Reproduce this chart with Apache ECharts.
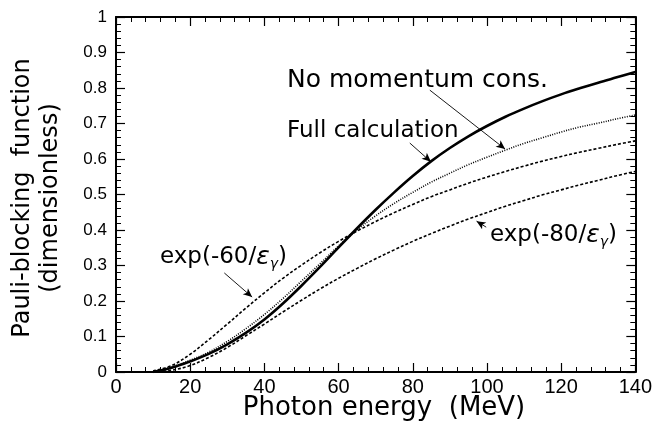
<!DOCTYPE html>
<html>
<head>
<meta charset="utf-8">
<script src="https://cdn.jsdelivr.net/npm/echarts@6/dist/echarts.min.js"></script>
<style>
  html, body { margin: 0; padding: 0; background: #fff; }
  #chart { width: 655px; height: 425px; }
</style>
</head>
<body>
<div id="chart"></div>
<script>
// Photon energy grid (MeV)
const energy = [10, 15, 20, 25, 30, 35, 40, 45, 50, 55, 60, 65, 70, 75, 80, 85, 90, 95, 100, 105, 110, 115, 120, 125, 130, 135, 140];

// Pauli-blocking function, full calculation
const fullCalc = [0.0, 0.012, 0.03, 0.051, 0.078, 0.11, 0.148, 0.193, 0.243, 0.296, 0.351, 0.405, 0.457, 0.506, 0.552, 0.594, 0.631, 0.664, 0.693, 0.719, 0.742, 0.763, 0.782, 0.799, 0.815, 0.83, 0.845];

// Without momentum conservation
const noMomentum = [0.0, 0.014, 0.033, 0.056, 0.086, 0.122, 0.162, 0.207, 0.256, 0.305, 0.355, 0.40, 0.44, 0.475, 0.506, 0.535, 0.56, 0.584, 0.605, 0.625, 0.644, 0.66, 0.676, 0.69, 0.701, 0.713, 0.724];

// exp(-60/E) approximation
const exp60 = [0.003, 0.018, 0.05, 0.091, 0.135, 0.18, 0.223, 0.264, 0.301, 0.336, 0.368, 0.397, 0.424, 0.449, 0.472, 0.494, 0.513, 0.532, 0.549, 0.565, 0.58, 0.594, 0.607, 0.619, 0.63, 0.641, 0.651];

// exp(-80/E) approximation
const exp80 = [0.0, 0.005, 0.018, 0.041, 0.069, 0.102, 0.135, 0.169, 0.202, 0.234, 0.264, 0.292, 0.319, 0.344, 0.368, 0.39, 0.411, 0.431, 0.449, 0.467, 0.483, 0.499, 0.513, 0.527, 0.54, 0.553, 0.565];

const xTickLabels = ['0', '20', '40', '60', '80', '100', '120', '140'];
const yTickLabels = ['0', '0.1', '0.2', '0.3', '0.4', '0.5', '0.6', '0.7', '0.8', '0.9', '1'];

// Annotation arrows: [from, to] in data coordinates
const arrows = [
  [[84.6, 0.794], [104.9, 0.628]],
  [[79.2, 0.645], [84.9, 0.592]],
  [[29.2, 0.279], [36.7, 0.211]],
  [[99.8, 0.408], [97.2, 0.425]]
];

const pairs = ys => energy.map((e, i) => [e, ys[i]]);

const chart = echarts.init(document.getElementById('chart'), null, { renderer: 'canvas' });

const tickFont = 'Liberation Sans, Arial, sans-serif';
const textFont = 'DejaVu Sans, sans-serif';

function xAxisCfg(pos, labels) {
  return {
    type: 'value', position: pos, min: 0, max: 140, interval: 20,
    axisLine: { show: true, onZero: false, lineStyle: { color: '#000', width: 2 } },
    axisTick: { show: true, inside: true, length: 9, lineStyle: { color: '#000', width: 1.2 } },
    minorTick: { show: true, splitNumber: 5, length: 5, lineStyle: { color: '#000', width: 1 } },
    splitLine: { show: false },
    axisLabel: {
      show: labels, color: '#000', fontSize: 20, fontFamily: tickFont, margin: 5,
      formatter: v => xTickLabels[Math.round(v / 20)]
    }
  };
}
function yAxisCfg(pos, labels) {
  return {
    type: 'value', position: pos, min: 0, max: 1, interval: 0.1,
    axisLine: { show: true, onZero: false, lineStyle: { color: '#000', width: 2 } },
    axisTick: { show: true, inside: true, length: 9, lineStyle: { color: '#000', width: 1.2 } },
    minorTick: { show: true, splitNumber: 5, length: 5, lineStyle: { color: '#000', width: 1 } },
    splitLine: { show: false },
    axisLabel: {
      show: labels, color: '#000', fontSize: 17, fontFamily: tickFont, margin: 9,
      formatter: v => yTickLabels[Math.round(v * 10)]
    }
  };
}

const lineBase = { type: 'line', showSymbol: false, smooth: 0.35, animation: false, silent: true };

const richLabel = size => ({
  e: { font: 'italic ' + size + 'px ' + textFont, fill: '#000' },
  s: { font: 'italic 14px ' + textFont, fill: '#000', padding: [15, 0, 0, 0] }
});

chart.setOption({
  backgroundColor: '#fff',
  animation: false,
  grid: { left: 116, right: 16, top: 17, bottom: 53 },
  xAxis: [xAxisCfg('bottom', true), xAxisCfg('top', false)],
  yAxis: [yAxisCfg('left', true), yAxisCfg('right', false)],
  series: [
    Object.assign({}, lineBase, {
      name: 'Full calculation', data: pairs(fullCalc),
      lineStyle: { color: '#000', width: 2.6 },
      markLine: {
        silent: true, animation: false,
        symbol: ['none', 'arrow'], symbolSize: [6, 9],
        label: { show: false },
        lineStyle: { color: '#000', width: 0.9, type: 'solid' },
        data: arrows.map(a => [{ coord: a[0] }, { coord: a[1] }])
      }
    }),
    Object.assign({}, lineBase, {
      name: 'No momentum cons.', data: pairs(noMomentum),
      lineStyle: { color: '#000', width: 1.6, type: [1, 1.4] }
    }),
    Object.assign({}, lineBase, {
      name: 'exp(-60/E)', data: pairs(exp60),
      lineStyle: { color: '#000', width: 1.6, type: [3, 2] }
    }),
    Object.assign({}, lineBase, {
      name: 'exp(-80/E)', data: pairs(exp80),
      lineStyle: { color: '#000', width: 1.6, type: [3, 2] }
    })
  ],
  graphic: [
    {
      type: 'text', x: 384, y: 408,
      style: { text: 'Photon energy  (MeV)', font: '26px ' + textFont, fill: '#000', textAlign: 'center', textVerticalAlign: 'middle' }
    },
    {
      type: 'text', x: 37, y: 198, rotation: Math.PI / 2,
      style: { text: 'Pauli-blocking  function\n(dimensionless)', font: '24px ' + textFont, fill: '#000', textAlign: 'center', textVerticalAlign: 'middle', lineHeight: 28 }
    },
    {
      type: 'text', x: 287, y: 80,
      style: { text: 'No momentum cons.', font: '25px ' + textFont, fill: '#000', textAlign: 'left', textVerticalAlign: 'middle' }
    },
    {
      type: 'text', x: 287, y: 131,
      style: { text: 'Full calculation', font: '23px ' + textFont, fill: '#000', textAlign: 'left', textVerticalAlign: 'middle' }
    },
    {
      type: 'text', x: 160, y: 257,
      style: {
        text: 'exp(-60/{e|ε}{s|γ})', font: '23px ' + textFont, fill: '#000', textAlign: 'left', textVerticalAlign: 'middle',
        rich: richLabel(25)
      }
    },
    {
      type: 'text', x: 490, y: 235,
      style: {
        text: 'exp(-80/{e|ε}{s|γ})', font: '23px ' + textFont, fill: '#000', textAlign: 'left', textVerticalAlign: 'middle',
        rich: richLabel(25)
      }
    }
  ]
});
</script>
</body>
</html>
